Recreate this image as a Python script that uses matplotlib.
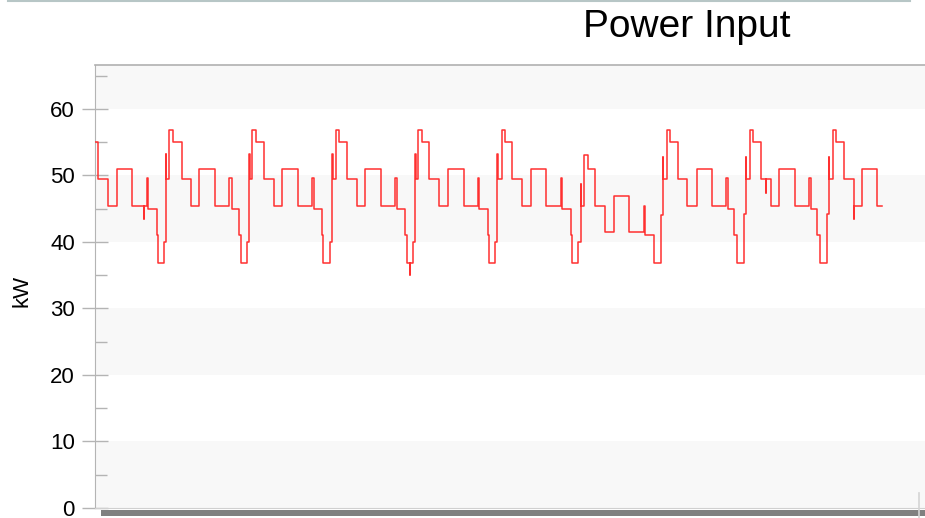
import matplotlib
matplotlib.use("Agg")
import matplotlib.pyplot as plt
from matplotlib.lines import Line2D
from matplotlib.patches import Rectangle

plt.rcParams['font.family'] = ['Liberation Sans', 'DejaVu Sans']

# step series: hour at which each level starts, and the level in kW
step_hours = [
    0.00, 0.95, 3.85, 6.27, 10.61, 14.17, 14.25, 14.95, 15.41, 17.84, 18.30, 19.95, 20.53, 20.65,
    21.40, 22.47, 25.07, 27.67, 30.16, 34.70, 38.83, 39.70, 41.64, 42.13, 44.04, 44.62, 44.75,
    45.49, 46.47, 48.87, 51.76, 54.16, 58.79, 62.83, 63.41, 65.55, 66.02, 68.04, 68.62, 68.75,
    69.60, 70.56, 72.78, 75.67, 78.07, 82.70, 86.75, 87.33, 89.55, 90.13, 91.09, 91.17, 92.04, 92.62, 92.75,
    93.49, 94.47, 96.58, 99.56, 101.99, 106.70, 110.66, 111.04, 113.55, 114.02, 115.75, 116.33, 116.45,
    117.69, 118.56, 120.67, 123.56, 125.99, 130.41, 134.75, 135.04, 137.64, 137.84, 139.75, 140.45, 140.55,
    141.49, 142.47, 144.67, 147.56, 149.99, 154.50, 158.66, 159.13, 161.73, 163.75, 164.24, 164.35,
    165.40, 166.36, 168.49, 171.18, 173.99, 178.50, 182.46, 183.04, 184.77, 185.73, 187.75, 188.24, 188.35,
    189.49, 190.36, 192.49, 193.94, 194.02, 195.39, 197.79, 202.50, 206.55, 207.04, 208.77, 209.73, 211.67, 212.24, 212.35,
    213.49, 214.27, 216.49, 219.38, 219.46, 221.79, 226.21, 227.48,
]
step_kw = [
    55.0, 49.5, 45.4, 50.9, 45.4, 43.4, 45.4, 49.6, 44.9, 41.0, 36.9, 40.0, 53.2, 49.5,
    56.9, 55.0, 49.5, 45.4, 50.9, 45.4, 49.6, 44.9, 41.0, 36.9, 40.0, 53.2, 49.5,
    56.9, 55.0, 49.5, 45.4, 50.9, 45.4, 49.6, 44.9, 41.0, 36.9, 40.0, 53.2, 49.5,
    56.9, 55.0, 49.5, 45.4, 50.9, 45.4, 49.6, 44.9, 41.0, 36.9, 35.0, 36.9, 40.0, 53.2, 49.5,
    56.9, 55.0, 49.5, 45.4, 50.9, 45.4, 49.6, 44.9, 41.0, 36.9, 40.0, 53.2, 49.5,
    56.9, 55.0, 49.5, 45.4, 50.9, 45.4, 49.6, 44.9, 41.0, 36.9, 40.0, 48.7, 45.4,
    53.0, 50.9, 45.4, 41.5, 46.9, 41.5, 45.4, 41.0, 36.9, 44.1, 52.7, 49.5,
    56.9, 55.0, 49.5, 45.4, 50.9, 45.4, 49.6, 44.9, 41.0, 36.9, 44.2, 52.7, 49.5,
    56.9, 55.0, 49.5, 47.4, 49.5, 45.4, 50.9, 45.4, 49.6, 44.9, 41.0, 36.9, 44.2, 52.7, 49.5,
    56.9, 55.0, 49.5, 43.4, 45.4, 50.9, 45.4, 45.4,
]

y_ticks = [0, 10, 20, 30, 40, 50, 60]
shaded_bands = [(0, 10), (20, 30), (40, 50), (60, 66.6)]

W, H = 925, 518
fig = plt.figure(figsize=(W / 100, H / 100), dpi=100)
ax = fig.add_axes([95 / W, 10 / H, 830 / W, 443 / H])

for lo, hi in shaded_bands:
    ax.axhspan(lo, hi, color='#f8f8f8', lw=0, zorder=0)

ax.step(step_hours, step_kw, where='post', color='#ff3030', lw=1.1, zorder=3)

ax.set_xlim(0, 240)
ax.set_ylim(0, 66.6)
ax.set_xticks([])
ax.set_yticks(y_ticks)
ax.set_yticks([5, 15, 25, 35, 45, 55, 65], minor=True)
ax.tick_params(axis='y', which='major', direction='inout', length=19, width=1,
               color='#b4b4b4', labelsize=16, pad=5, labelcolor='#000000')
ax.tick_params(axis='y', which='minor', direction='in', length=8.6, width=1,
               color='#b4b4b4')

ax.spines['right'].set_visible(False)
ax.spines['left'].set_color('#b4b4b4')
ax.spines['top'].set_color('#b0b0b0')
ax.spines['bottom'].set_color('#d0d0d0')
ax.spines['top'].set_linewidth(1.2)

ax.set_ylabel('kW', fontsize=16, color='#000000')
ax.yaxis.set_label_coords(-0.075, 0.49)

fig.text(687 / W, 1 - 37 / H, 'Power Input', fontsize=28, ha='center',
         va='baseline', color='#000000')

# window chrome: top rule, range bar under the plot, right handle
fig.add_artist(Line2D([8 / W, 910 / W], [1 - 0.8 / H, 1 - 0.8 / H],
                      transform=fig.transFigure, color='#b7c6c6', lw=1.5))
fig.add_artist(Rectangle((101 / W, 2 / H), 824 / W, 6.5 / H,
                         transform=fig.transFigure, color='#808080', lw=0))
fig.add_artist(Line2D([919 / W, 919 / W], [0, 25 / H],
                      transform=fig.transFigure, color='#d4d4d4', lw=1.2))

fig.savefig('out.png', dpi=100)
